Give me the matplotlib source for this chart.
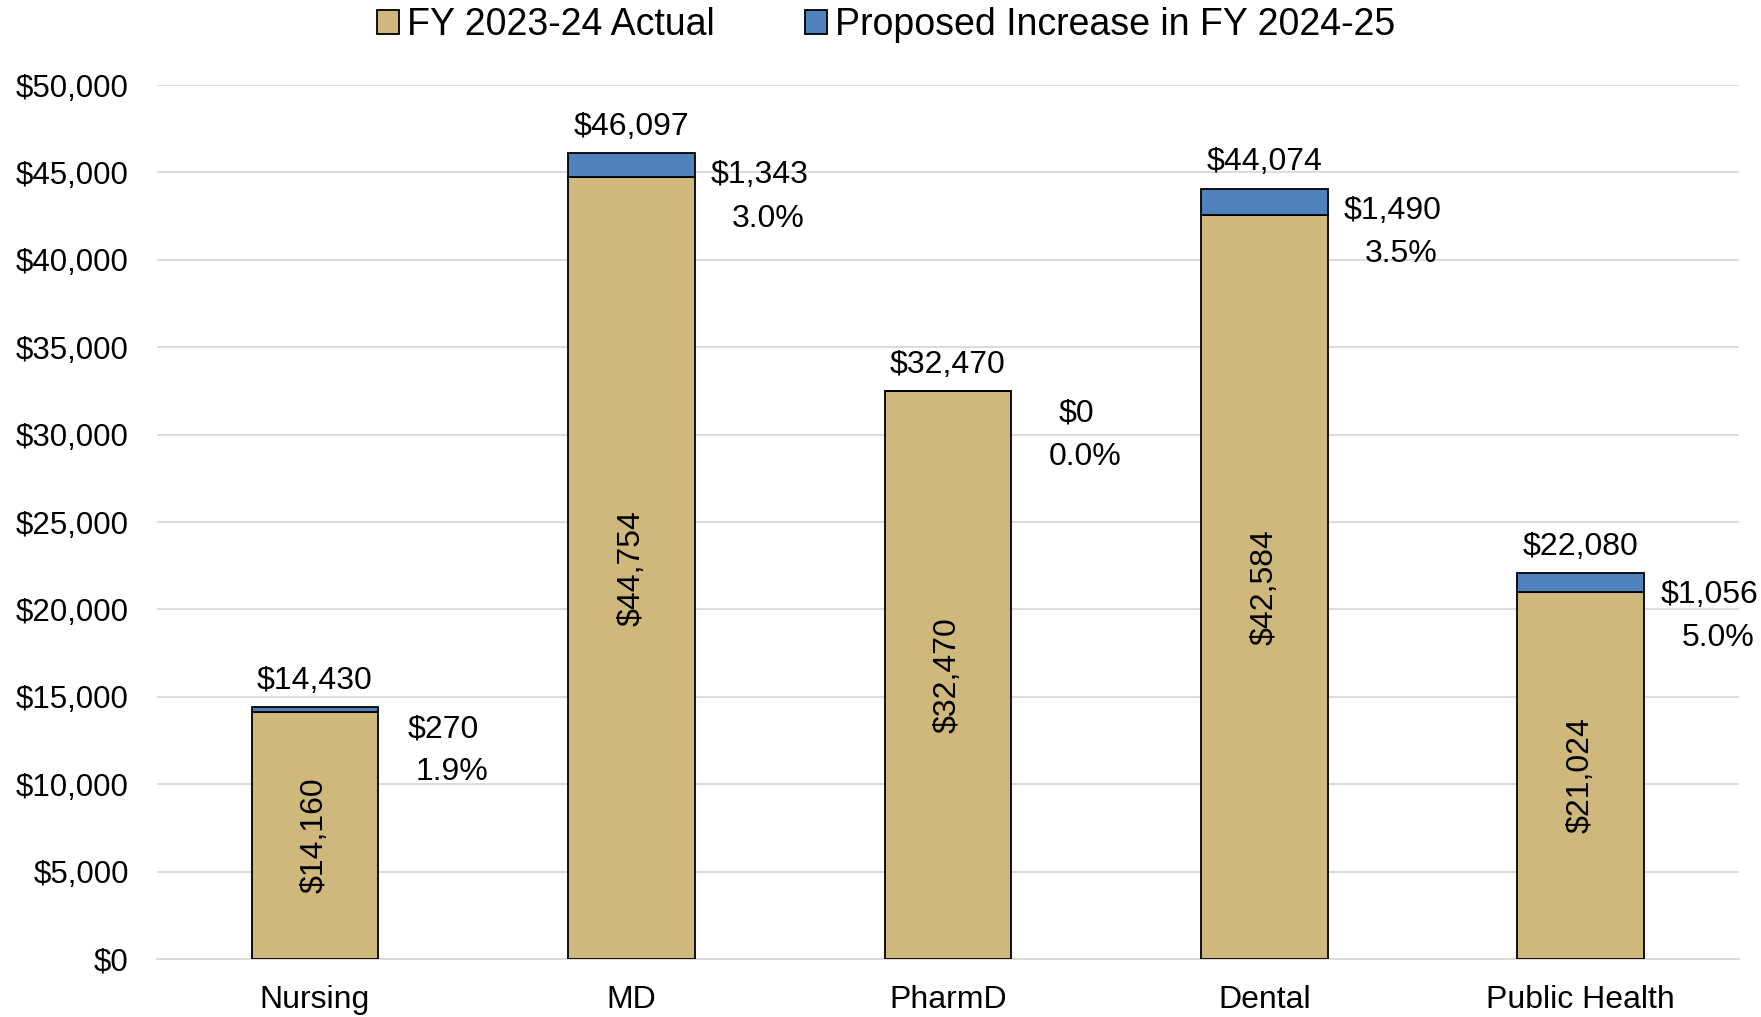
import matplotlib
matplotlib.use("Agg")
import matplotlib.pyplot as plt
import numpy as np

categories = ["Nursing", "MD", "PharmD", "Dental", "Public Health"]
actual = [14160, 44754, 32470, 42584, 21024]
increase = [270, 1343, 0, 1490, 1056]
totals = [14430, 46097, 32470, 44074, 22080]
pct = ["1.9%", "3.0%", "0.0%", "3.5%", "5.0%"]
yticks = list(range(0, 50001, 5000))

plt.rcParams['font.family'] = ['Liberation Sans', 'DejaVu Sans']

gold = "#CFB87C"
blue = "#4F81BD"

fig = plt.figure(figsize=(17.61, 10.17), dpi=100)
ax = fig.add_axes([0.089, 0.057, 0.8985, 0.8594])

x = np.arange(len(categories))
w = 0.4
b1 = ax.bar(x, actual, w, color=gold, edgecolor="black", linewidth=1.3,
            label="FY 2023-24 Actual", zorder=3)
b2 = ax.bar(x, increase, w, bottom=actual, color=blue, edgecolor="black",
            linewidth=1.3, label="Proposed Increase in FY 2024-25", zorder=3)

fs = 23
for i in range(len(categories)):
    ax.annotate(f"${totals[i]:,}", (x[i], totals[i]), xytext=(0, 8),
                textcoords="offset points", ha="center", va="bottom", fontsize=fs)
    ax.annotate(f"${increase[i]:,}", (x[i] + w / 2, totals[i]), xytext=(47, -16),
                textcoords="offset points", ha="center", va="center", fontsize=fs)
    ax.annotate(pct[i], (x[i] + w / 2, totals[i]), xytext=(53, -47),
                textcoords="offset points", ha="center", va="center", fontsize=fs)
    ax.text(x[i], actual[i] / 2, f"${actual[i]:,}", rotation=90, ha="center",
            va="center", fontsize=fs, zorder=4)

ax.set_xlim(-0.5, len(categories) - 0.5)
ax.set_ylim(0, 50000)
ax.set_yticks(yticks)
ax.set_yticklabels([f"${v:,}" for v in yticks], fontsize=22.5)
ax.set_xticks(x)
ax.set_xticklabels(categories, fontsize=fs)
ax.tick_params(axis="y", length=0, pad=20)
ax.tick_params(axis="x", length=0, pad=19)
ax.yaxis.grid(True, color="#D9D9D9", linewidth=1.3, zorder=0)
for s in ["top", "right", "left"]:
    ax.spines[s].set_visible(False)
ax.spines["bottom"].set_color("#D9D9D9")
ax.spines["bottom"].set_linewidth(1.3)

fig.legend(handles=[b1, b2], loc="upper center", bbox_to_anchor=(0.503, 1.026),
           ncol=2, frameon=False, fontsize=27, handlelength=0.6, handleheight=0.6,
           handletextpad=0.2, columnspacing=2.4)

fig.savefig("out.png", dpi=100)
